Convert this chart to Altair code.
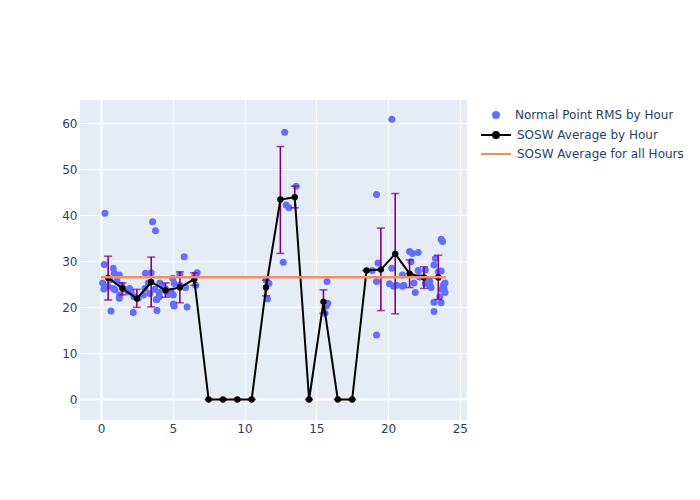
import altair as alt
import pandas as pd

# Scatter points: hour of day and normal point RMS
pt_hour = [0.28, 0.23, 0.12, 0.2, 0.7, 0.86, 0.93, 1.28, 1.1, 0.86, 0.98, 1.28, 1.3, 1.44, 2.0, 2.25,
           2.1, 2.3, 1.9, 3.1, 3.6, 3.8, 3.5, 3.07, 2.95, 3.4, 3.76, 3.9, 4.06, 3.9, 3.85, 4.06, 4.3,
           4.6, 4.9, 5.1, 5.0, 5.04, 5.04, 5.1, 4.8, 5.5, 5.8, 5.9, 6.0, 5.5, 6.6, 6.7, 6.55, 3.3, 4.1,
           0.5, 0.6, 1.6, 2.6, 4.5,
           11.7, 11.6, 11.5, 12.8, 12.7, 12.9, 13.1, 13.6, 15.75, 15.8, 15.7, 15.6,
           18.9, 19.2, 19.2, 19.3, 19.2, 20.26, 20.26, 20.1, 20.4, 20.6, 21.0, 21.0, 21.1, 21.5, 21.7,
           22.1, 21.6, 21.8, 21.9, 22.1, 22.2, 22.6, 22.6, 22.9, 23.0, 22.9, 23.2, 23.2, 23.2, 23.3,
           23.5, 23.7, 23.7, 23.8, 23.7, 23.6, 23.85, 23.97, 23.9, 23.97, 23.75]
pt_rms = [40.4, 29.3, 25.3, 24.0, 19.2, 28.5, 27.4, 27.0, 25.9, 24.1, 23.8, 22.0, 22.7, 24.8, 24.1, 18.9,
          23.4, 22.3, 23.4, 27.4, 38.6, 36.6, 27.5, 24.1, 22.7, 23.0, 23.9, 21.7, 23.2, 19.3, 21.7, 22.3, 24.5,
          23.4, 23.2, 25.2, 26.3, 22.7, 20.7, 20.3, 23.0, 27.0, 31.0, 24.3, 20.1, 24.8, 24.8, 27.5, 27.0, 25.3, 25.3,
          24.5, 26.0, 24.0, 22.0, 24.0,
          25.2, 21.8, 25.9, 58.0, 29.8, 42.2, 41.6, 46.3, 25.6, 20.9, 20.3, 18.7,
          28.0, 44.5, 14.0, 29.6, 25.6, 60.8, 28.5, 25.1, 24.6, 24.8, 27.0, 24.6, 24.8, 32.1, 31.7,
          31.9, 29.9, 25.3, 23.2, 28.0, 26.6, 28.1, 25.2, 24.8, 24.3, 25.6, 21.1, 19.1, 29.2, 30.6,
          27.7, 27.9, 34.8, 34.3, 21.0, 22.3, 24.8, 23.2, 24.1, 25.3, 23.9]

# Hourly averages with error bars
avg_hour = [0.5, 1.5, 2.5, 3.5, 4.5, 5.5, 6.5, 7.5, 8.5, 9.5, 10.5, 11.5,
            12.5, 13.5, 14.5, 15.5, 16.5, 17.5, 18.5, 19.5, 20.5, 21.5, 22.5, 23.5]
avg_val = [26.4, 24.1, 21.9, 25.5, 23.7, 24.3, 26.1, 0, 0, 0, 0, 24.3,
           43.4, 43.9, 0, 21.2, 0, 0, 28.0, 28.2, 31.6, 27.3, 26.5, 26.5]
err_lo = [21.6, 22.7, 20.0, 20.1, 22.2, 21.0, 24.8, 0, 0, 0, 0, 22.5,
          31.7, 41.6, 0, 18.7, 0, 0, 28.0, 19.3, 18.6, 24.3, 24.1, 21.7]
err_hi = [31.1, 25.3, 23.9, 30.9, 25.3, 27.7, 27.5, 0, 0, 0, 0, 25.9,
          54.9, 46.3, 0, 23.8, 0, 0, 28.0, 37.2, 44.7, 30.3, 28.8, 31.3]

# Overall average
all_hour = [0, 24]
all_val = [26.55, 26.55]

S1 = "Normal Point RMS by Hour"
S2 = "SOSW Average by Hour"
S3 = "SOSW Average for all Hours"

pts = pd.DataFrame({"hour": pt_hour, "rms": pt_rms, "s": S1})
avg = pd.DataFrame({"hour": avg_hour, "rms": avg_val, "lo": err_lo, "hi": err_hi, "s": S2})
alld = pd.DataFrame({"hour": all_hour, "rms": all_val, "s": S3})

FONT = "DejaVu Sans"
TXT = "#2a3f5f"

xs = alt.Scale(domain=[-1.46, 25.5], nice=False, zero=False)
ys = alt.Scale(domain=[-4.45, 65], nice=False, zero=False)
gw = {"condition": {"test": "datum.value === 0", "value": 2}, "value": 1}
xax = alt.Axis(title=None, values=[0, 5, 10, 15, 20, 25], gridWidth=gw)
yax = alt.Axis(title=None, values=[0, 10, 20, 30, 40, 50, 60], gridWidth=gw)

def leg(x, y, stype, size, offset, **kw):
    return alt.Legend(title=None, orient="none", legendX=x, legendY=y, symbolType=stype,
                      symbolSize=size, labelOffset=offset, labelFont=FONT, labelFontSize=12,
                      labelColor=TXT, labelLimit=400, padding=0, **kw)

points = alt.Chart(pts).mark_circle(size=49, opacity=1).encode(
    x=alt.X("hour:Q", scale=xs, axis=xax),
    y=alt.Y("rms:Q", scale=ys, axis=yax),
    color=alt.Color("s:N", scale=alt.Scale(domain=[S1], range=["#636efa"]),
                    legend=leg(410, 9, "circle", 64, 13)),
)

errs = alt.Chart(avg).mark_errorbar(ticks={"size": 8}, color="purple", thickness=1.6).encode(
    x=alt.X("hour:Q", scale=xs),
    y=alt.Y("lo:Q", scale=ys, title=None),
    y2="hi:Q",
)

line = alt.Chart(avg).mark_line(strokeWidth=2).encode(
    x=alt.X("hour:Q", scale=xs),
    y=alt.Y("rms:Q", scale=ys),
    color=alt.Color("s:N", scale=alt.Scale(domain=[S2], range=["black"]),
                    legend=leg(400, 19, "M-1,0H1M-0.2,0A0.2,0.2,0,1,1,0.2,0A0.2,0.2,0,1,1,-0.2,0Z",
                               900, 5, symbolStrokeWidth=2, symbolFillColor="black")),
)

dots = alt.Chart(avg).mark_circle(size=40, opacity=1, color="black").encode(
    x=alt.X("hour:Q", scale=xs),
    y=alt.Y("rms:Q", scale=ys),
)

overall = alt.Chart(alld).mark_line(strokeWidth=2.5).encode(
    x=alt.X("hour:Q", scale=xs),
    y=alt.Y("rms:Q", scale=ys),
    color=alt.Color("s:N", scale=alt.Scale(domain=[S3], range=["#f78a68"]),
                    legend=leg(400, 38, "M-1,0H1", 900, 5, symbolStrokeWidth=2)),
)

chart = alt.layer(points, errs, line, dots, overall).resolve_scale(
    color="independent"
).resolve_legend(color="independent").properties(
    width=387, height=320,
    autosize=alt.AutoSizeParams(type="none"),
    padding={"left": 72, "top": 92, "right": 225, "bottom": 64},
    background="white",
).configure_view(fill="#E5ECF6", stroke=None).configure_axis(
    domain=False, ticks=False, gridColor="white", labelColor=TXT, labelFont=FONT,
    labelFontSize=12, labelPadding=3,
)

chart.save("out.html", embed_options={"renderer": "svg", "actions": False})
